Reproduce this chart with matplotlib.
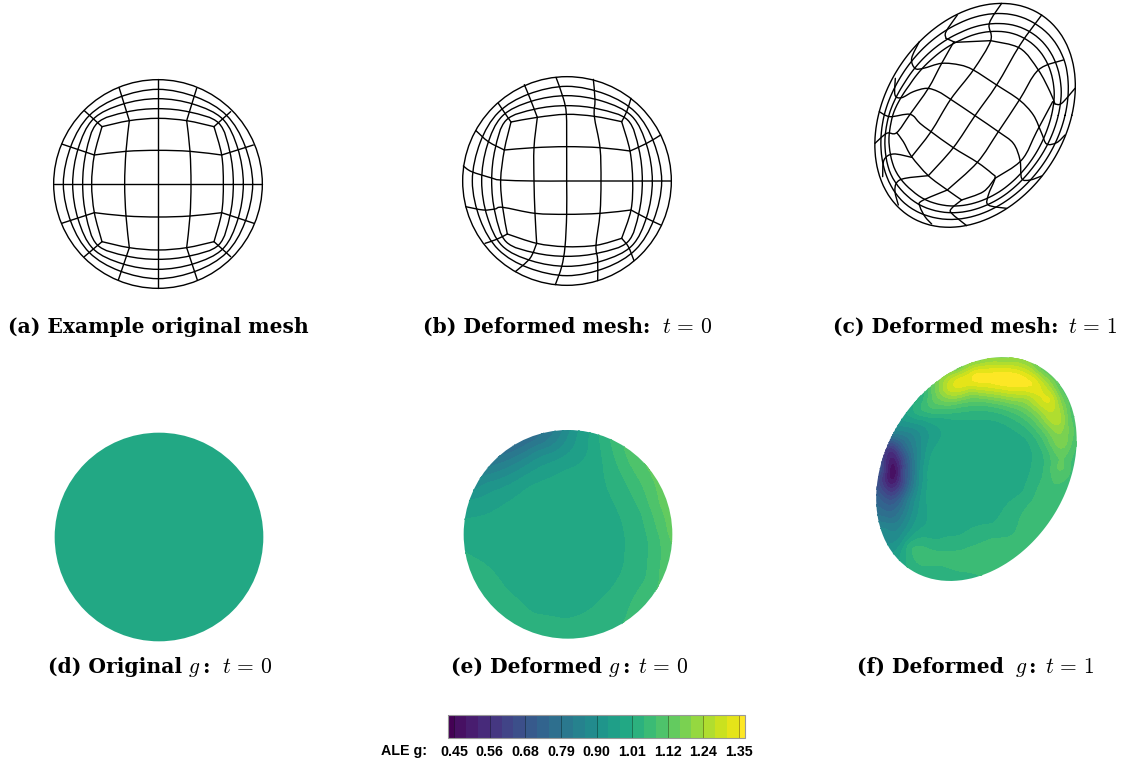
import numpy as np
import matplotlib
matplotlib.use('Agg')
import matplotlib.pyplot as plt
from matplotlib.cm import ScalarMappable
from matplotlib.colors import BoundaryNorm, ListedColormap
from matplotlib.patches import Circle, PathPatch
from matplotlib.path import Path

W, H = 1122, 761
plt.rcParams['mathtext.fontset'] = 'cm'

# all mesh and field coordinates are read from 3x crops of each panel
# ---- mesh a
ring_angles = [0, 24, 45, 66, 90]
ring_radii = [[284, 285, 291, 285, 284],
              [256, 262, 275, 262, 256],
              [226, 236, 258, 236, 226]]
a_center = (354, 342)
a_lines = [
    [(186, 170), (268, 152), (354, 145), (440, 152), (522, 170)],
    [(522, 170), (545, 255), (550, 342), (545, 428), (522, 515)],
    [(186, 515), (268, 533), (354, 540), (440, 533), (522, 515)],
    [(186, 170), (163, 255), (155, 342), (163, 428), (186, 515)],
    [(163, 255), (258, 244), (354, 241), (450, 244), (545, 255)],
    [(41, 342), (667, 342)],
    [(163, 428), (258, 438), (354, 441), (450, 438), (545, 428)],
    [(354, 28), (354, 655)],
    [(268, 152), (258, 244), (254, 342), (258, 438), (268, 533)],
    [(440, 152), (450, 244), (453, 342), (450, 438), (440, 533)],
    [(237, 52), (268, 152)], [(470, 55), (440, 152)],
    [(133, 122), (186, 170)], [(572, 125), (522, 170)],
    [(65, 222), (163, 255)], [(640, 225), (545, 255)],
    [(65, 460), (163, 428)], [(642, 460), (545, 428)],
    [(133, 560), (186, 515)], [(572, 560), (522, 515)],
    [(235, 630), (268, 533)], [(472, 630), (440, 533)],
]

# ---- mesh b
b_center = (351, 333)
b_lines = [
    [(183, 156), (262, 142), (349, 133), (433, 139), (515, 155)],
    [(515, 155), (540, 243), (548, 333), (543, 420), (515, 505)],
    [(172, 492), (260, 520), (345, 530), (438, 526), (515, 505)],
    [(183, 156), (163, 240), (152, 330), (158, 412), (172, 492)],
    [(163, 240), (252, 233), (350, 230), (450, 233), (540, 243)],
    [(40, 288), (65, 305), (125, 324), (152, 330), (252, 333), (350, 333), (450, 333), (548, 333), (664, 333)],
    [(47, 410), (100, 420), (135, 417), (158, 412), (255, 430), (350, 433), (450, 430), (543, 420)],
    [(262, 142), (252, 233), (252, 333), (255, 430), (260, 520)],
    [(318, 22), (340, 85), (349, 133), (350, 230), (350, 333), (350, 433), (345, 530), (335, 590), (316, 644)],
    [(430, 28), (435, 90), (433, 139), (450, 233), (453, 333), (450, 430), (438, 526), (443, 570), (443, 632)],
    [(223, 44), (240, 85), (262, 142)],
    [(543, 85), (530, 125), (515, 155)],
    [(145, 100), (165, 130), (183, 156)],
    [(78, 182), (115, 215), (163, 240)],
    [(632, 195), (590, 220), (540, 243)],
    [(632, 465), (590, 445), (543, 420)],
    [(515, 505), (535, 530), (552, 572)],
    [(172, 492), (140, 508), (105, 520)],
    [(260, 520), (240, 565), (196, 605)],
]

# ---- mesh c
c_outline = [(425, 10), (545, 45), (605, 105), (637, 180), (647, 265), (615, 405), (545, 528), (440, 625),
             (320, 677), (262, 685), (205, 678), (115, 615), (68, 530), (43, 430), (50, 335), (100, 235),
             (178, 125), (292, 45), (355, 20)]
c_ring_scale = [
    [.91, .91, .92, .93, .93, .93, .93, .93, .93, .93, .93, .94, .94, .94, .94, .93, .92, .91, .91],
    [.82, .83, .84, .85, .86, .86, .86, .87, .87, .87, .87, .88, .90, .90, .89, .86, .84, .82, .82],
    [.75, .76, .77, .78, .79, .79, .80, .81, .81, .81, .81, .82, .85, .86, .85, .80, .77, .75, .75],
]
c_lines = [
    [(392, 122), (480, 145), (535, 210), (570, 275), (585, 312)],
    [(285, 127), (392, 122)],
    [(258, 115), (285, 127)],
    [(578, 305), (530, 395), (485, 480), (405, 535)],
    [(305, 600), (370, 575), (405, 535)],
    [(178, 125), (155, 175), (165, 205), (190, 205), (245, 190), (300, 195), (340, 210), (410, 255), (478, 300),
     (520, 345), (545, 400), (560, 432), (590, 428), (615, 405)],
    [(106, 235), (105, 285), (125, 293), (160, 275), (200, 265), (235, 275), (272, 298), (345, 347), (415, 395),
     (460, 430), (480, 480), (485, 535), (510, 540), (545, 528)],
    [(58, 335), (90, 350), (150, 343), (180, 370), (213, 395), (280, 443), (352, 487), (395, 520), (405, 535),
     (385, 585), (385, 615), (440, 625)],
    [(110, 398), (130, 425), (155, 470), (205, 527), (262, 570), (305, 600)],
    [(45, 430), (80, 400), (110, 398), (150, 343), (205, 265), (245, 190), (282, 125)],
    [(155, 470), (213, 395), (272, 298), (340, 210), (392, 122), (388, 70), (425, 10)],
    [(205, 527), (280, 443), (345, 347), (410, 255), (480, 135), (545, 45)],
    [(262, 570), (352, 487), (415, 395), (478, 300), (535, 210), (610, 180)],
    [(645, 265), (605, 310), (585, 312)],
    [(68, 530), (72, 480), (100, 462), (155, 472)],
    [(115, 615), (105, 575), (110, 548), (135, 535), (205, 527)],
    [(215, 672), (195, 650), (180, 620), (185, 603), (262, 570)],
    [(320, 677), (275, 640), (275, 625), (305, 600)],
    [(292, 45), (258, 95), (258, 115)],
]

# ---- field e, contour lines by level
e_levels_lines = [
    (0.75, [(225, 50), (190, 75)]),
    (0.7875, [(280, 35), (250, 65), (160, 105)]),
    (0.825, [(315, 30), (290, 65), (200, 110), (125, 140)]),
    (0.8625, [(340, 30), (325, 60), (260, 95), (100, 170)]),
    (0.9, [(362, 30), (350, 60), (290, 105), (110, 190), (75, 210)]),
    (0.9375, [(385, 35), (370, 85), (300, 130), (120, 220), (60, 240), (10, 260)]),
    (0.975, [(425, 20), (418, 80), (350, 150), (240, 200), (120, 280), (45, 298), (10, 300)]),
    (1.0125, [(445, 20), (460, 130), (480, 220), (520, 320), (525, 400), (490, 500), (420, 570), (340, 597),
              (250, 580), (170, 510), (100, 430), (48, 400), (10, 380)]),
    (1.05, [(480, 30), (520, 170), (575, 280), (597, 380), (590, 470), (530, 590), (500, 640)]),
    (1.0875, [(520, 60), (580, 200), (630, 350), (630, 450), (620, 510), (600, 560)]),
    (1.125, [(570, 100), (630, 250), (655, 340), (670, 380)]),
]
e_extra = [(300, 350, 0.995), (200, 350, .995), (400, 300, .995), (100, 350, .99), (300, 250, .99), (400, 450, 1.0),
           (250, 480, 1.0), (300, 640, 1.03), (150, 570, 1.03), (690, 300, 1.16), (0, 0, .7), (720, 0, 1.15),
           (720, 690, 1.06), (0, 690, 1.03), (0, 340, .985), (200, 50, .74)]

# ---- field f, sample points (x, y, value)
f_offset = (4, 11)
f_edge_values = [1.17, 1.12, 1.09, 1.08, 1.08, 1.06, 1.05, 1.05, 1.04, 1.03, 1.02, .97, .88, .74, .72, .85, 1.0, 1.13, 1.16]
f_ridge = [(270, 115, 1.3), (300, 95, 1.35), (350, 80, 1.38), (420, 85, 1.39), (470, 88, 1.39), (520, 100, 1.36),
           (570, 150, 1.33), (595, 210, 1.27), (605, 280, 1.2), (600, 350, 1.15), (570, 430, 1.09), (555, 465, 1.07)]
f_flanks = [(300, 65, 1.24), (360, 45, 1.26), (420, 45, 1.27), (480, 50, 1.26), (550, 90, 1.24), (600, 150, 1.19),
            (625, 220, 1.15), (635, 290, 1.11), (330, 125, 1.22), (420, 125, 1.27), (500, 140, 1.24), (540, 190, 1.2),
            (560, 250, 1.13), (565, 300, 1.08), (250, 135, 1.2), (215, 155, 1.12), (180, 185, 1.05), (220, 190, 1.05),
            (300, 165, 1.1), (370, 160, 1.1), (420, 175, 1.08), (420, 195, 1.04),
            (555, 340, 1.05), (585, 340, 1.1), (625, 340, 1.1), (640, 340, 1.06)]
f_plateau = [(245, 205, 1.0), (345, 210, 1.0125), (440, 225, 1.0125), (500, 265, 1.0125), (515, 340, 1.0125),
             (490, 430, 1.0125), (400, 525, 1.0125), (300, 560, 1.0125), (230, 565, 1.0), (195, 530, .975),
             (200, 420, .975), (215, 310, .975), (240, 240, .975),
             (350, 370, .998), (280, 300, .998), (420, 320, .998), (300, 470, .998), (400, 300, .998), (300, 400, .998),
             (400, 400, .998), (450, 350, .998), (250, 400, .995), (250, 300, .995), (350, 450, .998), (450, 280, .998),
             (350, 250, .998)]
f_lower = [(190, 630, 1.06), (300, 640, 1.06), (400, 585, 1.06), (500, 510, 1.06),
           (150, 590, 1.05), (250, 585, 1.04), (330, 590, 1.05), (400, 550, 1.04), (500, 470, 1.05), (550, 380, 1.05)]
f_blob = [(97, 365, .42), (97, 340, .47), (97, 390, .47), (130, 365, .65), (160, 365, .78), (185, 365, .93), (72, 365, .6),
          (97, 300, .55), (97, 250, .8), (150, 250, .85), (190, 215, .95), (130, 300, .72),
          (97, 430, .6), (97, 500, .77), (105, 560, .87), (130, 585, .95), (150, 565, .97), (150, 450, .85), (170, 520, .95)]

# ---- colorbar
cbar_edges = [0.431] + [0.45 + 0.0375 * k for k in range(25)] + [1.369]
cbar_ticks = [0.45, 0.5625, 0.675, 0.7875, 0.9, 1.0125, 1.125, 1.2375, 1.35]
cbar_labels = ['0.45', '0.56', '0.68', '0.79', '0.90', '1.01', '1.12', '1.24', '1.35']
d_value = 1.0

# caption pieces: bold text, then math and colon where they sit on the page
captions = [
    (8, 333, '(a) Example original mesh', None, None, None, None),
    (423, 333, '(b) Deformed mesh:', None, None, 662, r'$t\,=\,0$'),
    (833, 333, '(c) Deformed mesh:', None, None, 1068, r'$t\,=\,1$'),
    (48, 673, '(d) Original', 188, 202, 222, r'$t\,=\,0$'),
    (451, 673, '(e) Deformed', 608, 622, 638, r'$t\,=\,0$'),
    (857, 673, '(f) Deformed', 1015, 1028, 1045, r'$t\,=\,1$'),
]


def panel(fig, x, y, w, h):
    ax = fig.add_axes([x / W, 1 - (y + h) / H, w / W, h / H])
    ax.set_xlim(0, w * 3)
    ax.set_ylim(h * 3, 0)
    ax.axis('off')
    return ax


def smooth_path(pts, closed=False):
    # catmull-rom through the read points, as bezier segments
    p = np.array(pts, dtype=float)
    if len(p) == 2:
        return Path(p)
    n = len(p)
    verts = [p[0]]
    codes = [Path.MOVETO]
    for i in range(n if closed else n - 1):
        if closed:
            p0, p1, p2, p3 = p[(i - 1) % n], p[i], p[(i + 1) % n], p[(i + 2) % n]
        else:
            p0, p1, p2, p3 = p[max(i - 1, 0)], p[i], p[i + 1], p[min(i + 2, n - 1)]
        verts += [p1 + (p2 - p0) / 6, p2 - (p3 - p1) / 6, p2]
        codes += [Path.CURVE4] * 3
    return Path(verts, codes)


def draw_line(ax, pts, closed=False):
    ax.add_patch(PathPatch(smooth_path(pts, closed), fc='none', ec='black', lw=1.0, capstyle='round'))


def polar_rings(center):
    rings = []
    for radii in ring_radii:
        ang = []
        rad = []
        for q in range(4):
            vals = radii if q % 2 == 0 else radii[::-1]
            for a, r in zip(ring_angles[:-1], vals[:-1]):
                ang.append(a + 90 * q)
                rad.append(r)
        ang = np.radians(ang)
        rad = np.array(rad)
        rings.append(list(zip(center[0] + rad * np.cos(ang), center[1] + rad * np.sin(ang))))
    return rings


def fit_outline(pts):
    # the outer curve is an ellipse, fit a conic to the read points to get rid of reading noise
    p = np.array(pts, dtype=float) / 300.0
    x, y = p[:, 0], p[:, 1]
    A, B, C, D, E = np.linalg.lstsq(np.column_stack([x * x, x * y, y * y, x, y]), np.ones(len(p)), rcond=None)[0]
    cen = np.linalg.solve([[2 * A, B], [B, 2 * C]], [-D, -E])
    k = 1 - (A * cen[0] ** 2 + B * cen[0] * cen[1] + C * cen[1] ** 2 + D * cen[0] + E * cen[1])
    phi = np.radians(np.arange(0, 360, 5.0))
    q = A * np.cos(phi) ** 2 + B * np.cos(phi) * np.sin(phi) + C * np.sin(phi) ** 2
    r = np.sqrt(k / q)
    return cen * 300, phi, r * 300


def field_grid(x, y, z, w, h, lam):
    # thin plate spline through the read samples so that the bands come out smooth
    pts = np.column_stack([x, y]) / 700.0
    n = len(pts)

    def kernel(a, b):
        r2 = ((a[:, None, :] - b[None, :, :]) ** 2).sum(axis=2)
        return 0.5 * r2 * np.log(r2 + 1e-12)

    A = np.zeros((n + 3, n + 3))
    A[:n, :n] = kernel(pts, pts) + lam * np.eye(n)
    A[:n, n:] = np.column_stack([np.ones(n), pts])
    A[n:, :n] = A[:n, n:].T
    coef = np.linalg.solve(A, np.concatenate([z, np.zeros(3)]))
    gx, gy = np.meshgrid(np.linspace(0, w * 3, 300), np.linspace(0, h * 3, 300))
    q = np.column_stack([gx.ravel(), gy.ravel()]) / 700.0
    zz = kernel(q, pts) @ coef[:n] + coef[n] + q @ coef[n + 1:]
    return gx, gy, zz.reshape(gx.shape)


def contour_field(ax, x, y, z, w, h, clip, lam):
    gx, gy, gz = field_grid(x, y, z, w, h, lam)
    cs = ax.contourf(gx, gy, gz, levels=cbar_edges, cmap=cmap, norm=norm, extend='both')
    cs.set_edgecolor('face')
    cs.set_linewidth(0.3)
    cs.set_clip_path(clip)
    ax.set_xlim(0, w * 3)
    ax.set_ylim(h * 3, 0)


cmap = ListedColormap(plt.get_cmap('viridis')(np.linspace(0, 1, 26)))
cmap.set_under(cmap(0))
cmap.set_over(cmap(25))
norm = BoundaryNorm(cbar_edges, 26)

fig = plt.figure(figsize=(W / 100, H / 100), dpi=100)

# top row, meshes
ax = panel(fig, 40, 70, 240, 230)
ax.add_patch(Circle(a_center, 313, fc='none', ec='black', lw=1.0))
for ring in polar_rings(a_center):
    draw_line(ax, ring, closed=True)
for line in a_lines:
    draw_line(ax, line)

ax = panel(fig, 450, 70, 240, 230)
ax.add_patch(Circle(b_center, 313, fc='none', ec='black', lw=1.0))
for ring in polar_rings(b_center):
    draw_line(ax, ring, closed=True)
for line in b_lines:
    draw_line(ax, line)

ax = panel(fig, 860, 0, 240, 240)
center, phi, radius = fit_outline(c_outline)
outline = center + np.column_stack([radius * np.cos(phi), radius * np.sin(phi)])
draw_line(ax, outline, closed=True)
read = np.array(c_outline, dtype=float) - center
read_phi = np.arctan2(read[:, 1], read[:, 0]) % (2 * np.pi)
for scale in c_ring_scale:
    s = np.interp(phi, read_phi[np.argsort(read_phi)], np.array(scale)[np.argsort(read_phi)], period=2 * np.pi)
    draw_line(ax, center + (outline - center) * s[:, None], closed=True)
for line in c_lines:
    draw_line(ax, line)

# bottom row, fields
ax = panel(fig, 40, 420, 240, 230)
ax.add_patch(Circle((357, 351), 313, fc=cmap(norm(d_value)), ec='none'))

ax = panel(fig, 450, 420, 240, 230)
ex, ey, ev = [], [], []
for level, pts in e_levels_lines:
    for px, py in pts:
        ex.append(px)
        ey.append(py)
        ev.append(level)
for px, py, val in e_extra:
    ex.append(px)
    ey.append(py)
    ev.append(val)
clip = Circle((354, 343), 313, transform=ax.transData)
contour_field(ax, np.array(ex, float), np.array(ey, float), np.array(ev, float), 240, 230, clip, 5e-4)

ax = panel(fig, 860, 350, 240, 240)
read_f = np.array(c_outline, dtype=float) + np.array(f_offset)
cen_f = center + np.array(f_offset)
out_f = outline + np.array(f_offset)
pad = cen_f + (read_f - cen_f) * 1.12
samples = f_ridge + f_flanks + f_plateau + f_lower + f_blob
fx = list(read_f[:, 0]) + list(pad[:, 0]) + [s[0] for s in samples]
fy = list(read_f[:, 1]) + list(pad[:, 1]) + [s[1] for s in samples]
fv = f_edge_values + f_edge_values + [s[2] for s in samples]
clip = PathPatch(smooth_path(out_f, closed=True), transform=ax.transData)
contour_field(ax, np.array(fx), np.array(fy), np.array(fv), 240, 240, clip, 1e-3)

# colorbar
cax = fig.add_axes([448 / W, 1 - 738 / H, 297 / W, 23 / H])
cb = fig.colorbar(ScalarMappable(norm=norm, cmap=cmap), cax=cax, orientation='horizontal',
                  spacing='proportional', ticks=cbar_ticks)
cb.ax.set_xticklabels(cbar_labels, fontfamily='Liberation Sans', fontweight='bold', fontsize=10.3)
cb.ax.minorticks_off()
cb.ax.tick_params(axis='x', length=16.5, width=0.6, direction='in', color='#00000066', pad=5)
cb.outline.set_edgecolor('#999999')
cb.outline.set_linewidth(0.8)
fig.text(404 / W, 1 - 751 / H, 'ALE g:', fontfamily='Liberation Sans', fontweight='bold', fontsize=10.3,
         ha='center', va='center')

for x0, y0, bold, gx0, colon_x, tx, tstr in captions:
    fig.text(x0 / W, 1 - y0 / H, bold, fontfamily='DejaVu Serif', fontweight='bold', fontsize=14.6, va='baseline')
    if gx0 is not None:
        fig.text(gx0 / W, 1 - y0 / H, '$g$', fontsize=15.5, va='baseline')
        fig.text(colon_x / W, 1 - y0 / H, ':', fontfamily='DejaVu Serif', fontweight='bold', fontsize=14.6, va='baseline')
    if tx is not None:
        fig.text(tx / W, 1 - y0 / H, tstr, fontsize=15.5, va='baseline')

fig.savefig('out.png', dpi=100)
